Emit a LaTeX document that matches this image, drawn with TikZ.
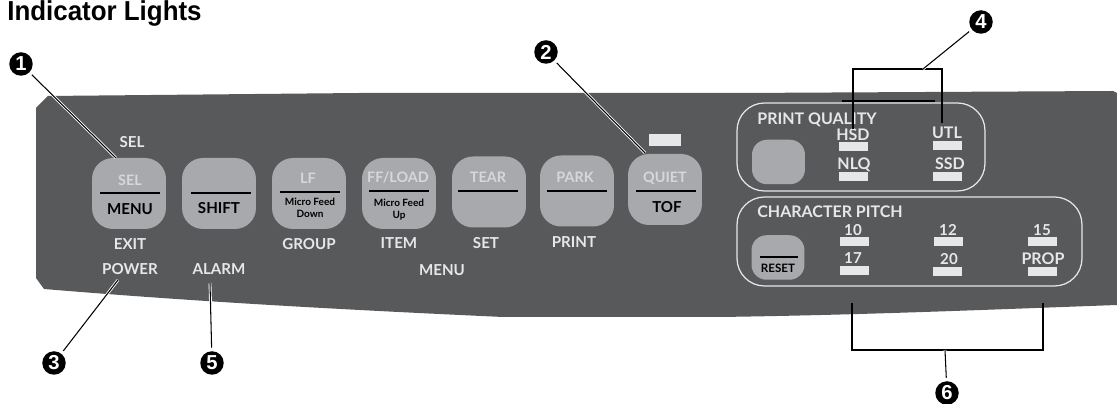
\documentclass[tikz,border=0pt]{standalone}
\usepackage{fontspec}
\setmainfont{Lato}
\newfontfamily\headfont[FakeStretch=0.945]{Liberation Sans}
\newfontfamily\numfont{Liberation Sans}
\definecolor{panelgray}{HTML}{58595B}
\definecolor{keygray}{HTML}{A7A9AC}
\definecolor{lampgray}{HTML}{E6E7E8}
\definecolor{keytext}{HTML}{D6D7D9}
\tikzset{
  key/.style={fill=keygray, rounded corners=0.42cm, minimum width=1.48cm, minimum height=1.42cm, inner sep=0},
  smallkey/.style={fill=keygray, rounded corners=0.3cm, minimum width=1.06cm, minimum height=0.89cm, inner sep=0},
  lamp/.style={fill=lampgray, minimum width=0.58cm, minimum height=0.18cm, inner sep=0},
  group box/.style={draw=lampgray, line width=0.7pt, rounded corners=0.55cm, inner sep=0},
  keybar/.style={line width=1pt, black},
  paneltext/.style={text=lampgray, inner sep=0, font=\fontsize{8.6}{9}\selectfont\bfseries, text height=6.1pt, text depth=0pt},
  grouptext/.style={paneltext, font=\fontsize{9.1}{10}\selectfont\bfseries},
  keyname/.style={paneltext, text=keytext, font=\fontsize{8.2}{9}\selectfont\bfseries},
  keylabel/.style={paneltext, text=black},
  tinylabel/.style={keylabel, font=\fontsize{5.7}{6}\selectfont\bfseries, text height=4.2pt},
  callout/.style={circle, fill=black, text=white, inner sep=0, minimum size=0.47cm, outer sep=2pt,
    font=\numfont\bfseries\fontsize{11.5}{12}\selectfont},
  leader/.style={black, line width=0.6pt, preaction={draw=white, line width=1.6pt}},
}
\begin{document}
\begin{tikzpicture}[x=0.02cm, y=-0.02cm]
  \useasboundingbox (0,0) rectangle (1117,404);

  % Heading
  \node[anchor=base west, inner sep=0, font=\headfont\bfseries\fontsize{15.6}{17}\selectfont] (heading) at (7,21) {Indicator Lights};

  % Panel
  \fill[panelgray] (48,96) -- (360,93) -- (740,93) -- (1113,91) -- (1117,93) -- (1117,305)
    .. controls (980,310) and (860,315) .. (720,317) -- (503,317)
    .. controls (350,310) and (200,302) .. (44,289) -- (36,278) -- (36,108) -- cycle;

  % Keys
  \node[key] (keySel) at (129,193.5) {};
  \node[key] (keyShift) at (219,193.5) {};
  \node[key] (keyLf) at (309,193.5) {};
  \node[key] (keyLoad) at (399,193.5) {};
  \node[key] (keyTear) at (489,192) {};
  \node[key] (keyPark) at (577,191) {};
  \node[key] (keyQuiet) at (665,189.5) {};

  \draw[keybar] (100,193) -- (160,193);
  \draw[keybar] (191,193) -- (251,193);
  \draw[keybar] (280,192) -- (340,192);
  \draw[keybar] (369,191) -- (429,191);
  \draw[keybar] (458,191) -- (518,191);
  \draw[keybar] (547,191) -- (607,191);
  \draw[keybar] (636,191) -- (696,191);

  % Text on the keys
  \node[keyname] (selName) at (130,180) {SEL};
  \node[keyname] (lfName) at (308,178) {LF};
  \node[keyname] (loadName) at (398,177) {FF/LOAD};
  \node[keyname] (tearName) at (488,177) {TEAR};
  \node[keyname] (parkName) at (575,177) {PARK};
  \node[keyname] (quietName) at (665,177) {QUIET};
  \node[keylabel] (menuKey) at (130,209) {MENU};
  \node[keylabel] (shiftKey) at (219,208) {SHIFT};
  \node[keylabel] (tofKey) at (667,207) {TOF};
  \node[tinylabel] (lfUpper) at (310,202) {Micro Feed};
  \node[tinylabel] (lfLower) at (310,214) {Down};
  \node[tinylabel] (loadUpper) at (399,203) {Micro Feed};
  \node[tinylabel] (loadLower) at (399,215) {Up};

  % Text on the panel
  \node[paneltext] (selAbove) at (132,142) {SEL};
  \node[paneltext] (exitLabel) at (130,244) {EXIT};
  \node[paneltext] (groupLabel) at (309,244) {GROUP};
  \node[paneltext] (itemLabel) at (399,243) {ITEM};
  \node[paneltext] (setLabel) at (486,243) {SET};
  \node[paneltext] (printLabel) at (574,242) {PRINT};
  \node[paneltext] (powerLabel) at (130,269) {POWER};
  \node[paneltext] (alarmLabel) at (219,269) {ALARM};
  \node[paneltext] (menuLabel) at (442,270) {MENU};
  \node[lamp, minimum height=0.24cm, minimum width=0.64cm] (lampQuiet) at (665,140) {};

  % Print quality group
  \node[group box, minimum width=4.96cm, minimum height=1.76cm] (boxQuality) at (861,147) {};
  \draw[keybar, line width=0.8pt] (842,101) -- (935,101);
  \node[grouptext, anchor=west] (qualityTitle) at (757,119) {PRINT QUALITY};
  \node[smallkey] (keyQuality) at (778.5,162) {};
  \node[grouptext] (hsdLabel) at (853,135) {HSD};
  \node[grouptext] (utlLabel) at (947,133) {UTL};
  \node[grouptext] (nlqLabel) at (854,164) {NLQ};
  \node[grouptext] (ssdLabel) at (950,164) {SSD};
  \node[lamp] (lampHsd) at (853,146.5) {};
  \node[lamp] (lampUtl) at (947.5,145.5) {};
  \node[lamp] (lampNlq) at (853.5,176.5) {};
  \node[lamp] (lampSsd) at (947.5,176.5) {};

  % Character pitch group
  \node[group box, minimum width=6.9cm, minimum height=1.78cm] (boxPitch) at (909.5,241.5) {};
  \node[grouptext, anchor=west] (pitchTitle) at (757,212) {CHARACTER PITCH};
  \node[smallkey] (keyReset) at (778,257.5) {};
  \draw[keybar, line width=0.8pt] (760,257) -- (798,257);
  \node[keylabel, font=\fontsize{6.6}{7}\selectfont\bfseries, text height=4.8pt] (resetLabel) at (778,268) {RESET};
  \node[paneltext] (pitchTen) at (853,230) {10};
  \node[paneltext] (pitchTwelve) at (948,230) {12};
  \node[paneltext] (pitchFifteen) at (1042,230) {15};
  \node[paneltext] (pitchSeventeen) at (853,258) {17};
  \node[paneltext] (pitchTwenty) at (949,259) {20};
  \node[grouptext] (pitchProp) at (1043,259) {PROP};
  \node[lamp] (lampTen) at (854.5,241.5) {};
  \node[lamp] (lampTwelve) at (948.5,241.5) {};
  \node[lamp] (lampFifteen) at (1042.5,241.5) {};
  \node[lamp] (lampSeventeen) at (854.5,270.5) {};
  \node[lamp] (lampTwenty) at (947.5,271.5) {};
  \node[lamp] (lampProp) at (1042.5,271.5) {};

  % Callouts
  \node[callout] (callOne) at (21,64) {1};
  \node[callout] (callTwo) at (546,52) {2};
  \node[callout] (callThree) at (54,363) {3};
  \node[callout] (callFour) at (981,22) {4};
  \node[callout] (callFive) at (212,363) {5};
  \node[callout] (callSix) at (947,393) {6};

  % Free ends of the leaders
  \coordinate (endOne) at (116,158);
  \coordinate (endTwo) at (645,153);
  \coordinate (endThree) at (118,280);
  \coordinate (endFive) at (210,283);
  \coordinate (forkFour) at (923,69);
  \coordinate (fourLeft) at (853,129);
  \coordinate (fourRight) at (942,123);
  \coordinate (forkSix) at (945,350);
  \coordinate (sixLeft) at (852,303);
  \coordinate (sixRight) at (1043,303);

  \draw[leader] (callOne) -- (endOne);
  \draw[leader] (callTwo) -- (endTwo);
  \draw[leader] (callThree) -- (endThree);
  \draw[leader] (callFive) -- (endFive);
  \draw[leader] (fourLeft) |- (forkFour) -| (fourRight);
  \draw[leader] (callFour) -- (forkFour);
  \draw[leader] (sixLeft) |- (forkSix) -| (sixRight);
  \draw[leader] (callSix) -- (forkSix);
\end{tikzpicture}
\end{document}
